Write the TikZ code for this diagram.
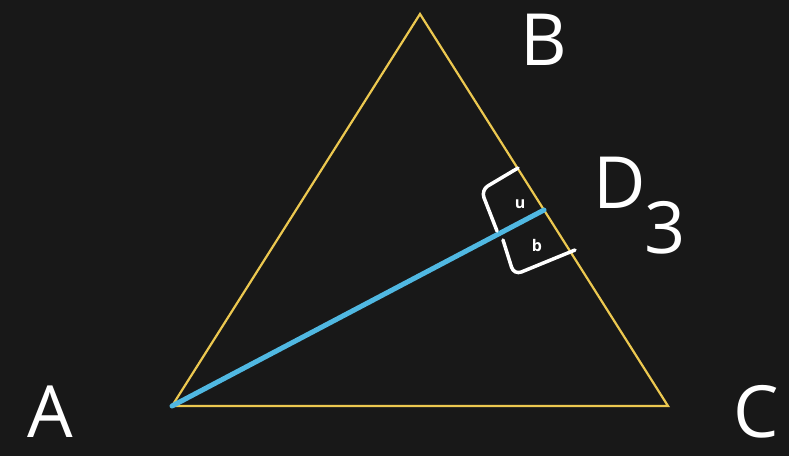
\documentclass[tikz,border=0pt]{standalone}
\usepackage{fontspec}
\setmainfont{Open Sans}
\definecolor{board}{RGB}{24,24,24}
\definecolor{tri}{RGB}{236,200,80}
\definecolor{med}{RGB}{80,184,226}
\begin{document}
\begin{tikzpicture}[x=1pt,y=-1pt,
  side/.style={draw=tri,line width=2.2pt,line join=miter},
  medline/.style={draw=med,line width=5pt,line cap=round},
  chalk/.style={draw=white,line width=3.5pt,line cap=round,rounded corners=8pt},
  biglabel/.style={text=white,font=\fontsize{72}{74}\selectfont,inner sep=0pt},
  smalllabel/.style={text=white,font=\bfseries\fontsize{16}{16}\selectfont,inner sep=0pt}]
\fill[board] (0,0) rectangle (789,456);
\useasboundingbox (0,0) rectangle (789,456);
\coordinate (A) at (172,406);
\coordinate (B) at (420,14);
\coordinate (C) at (668,406);
\coordinate (D) at (544,210);
\draw[side] (A) -- (B) -- (C) -- cycle;
\draw[medline] (A) -- (D);
% tick brackets
\coordinate (u1) at (518,168);
\coordinate (u2) at (481,190);
\coordinate (u3) at (497,231);
\coordinate (b1) at (503,240);
\coordinate (b2) at (514,275);
\coordinate (b3) at (575,250);
\draw[chalk] (u1) -- (u2) -- (u3);
\draw[chalk] (b1) -- (b2) -- (b3);
\node[smalllabel] (lu) at (520,204) {u};
\node[smalllabel] (lb) at (537,245) {b};
\node[biglabel] (lA) at (50,412) {A};
\node[biglabel] (lB) at (544,40) {B};
\node[biglabel] (lC) at (756,412) {C};
\node[biglabel] (lD) at (620,183) {D};
\node[biglabel] (l3) at (665,228) {3};
\end{tikzpicture}
\end{document}
